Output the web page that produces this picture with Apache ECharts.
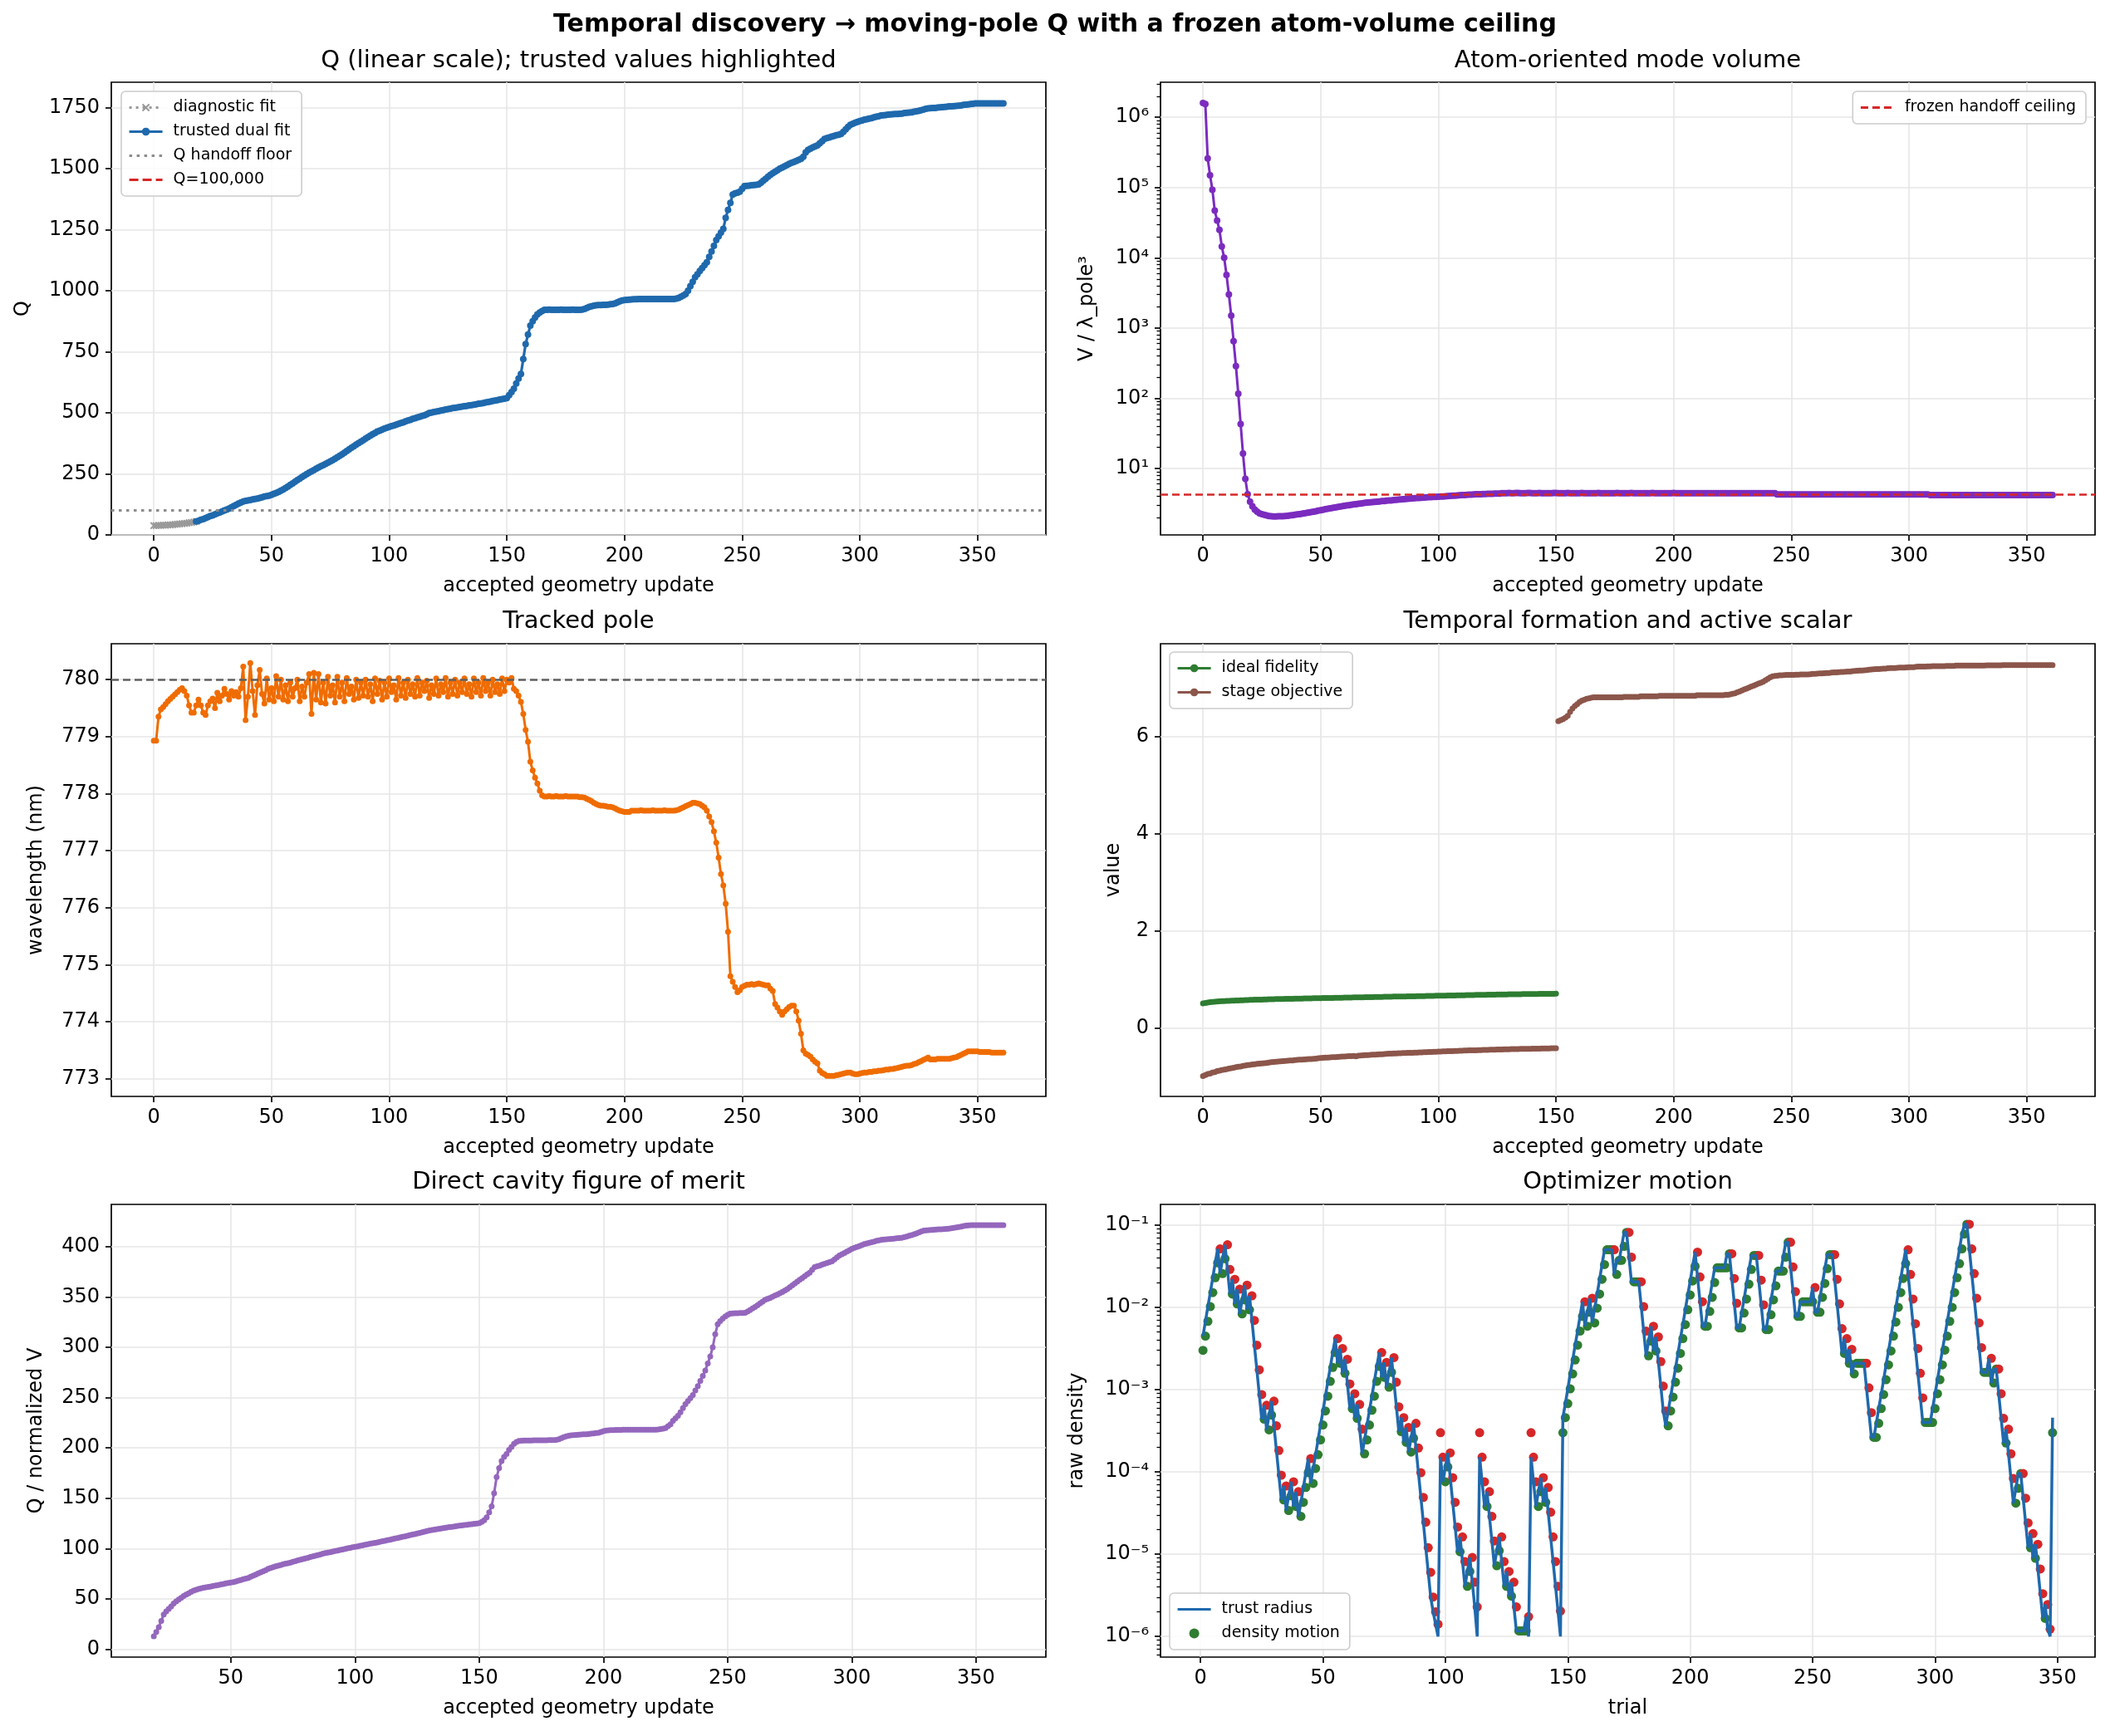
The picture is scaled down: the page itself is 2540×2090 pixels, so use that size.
<!DOCTYPE html>
<html>
<head>
<meta charset="utf-8">
<title>Temporal discovery - moving-pole Q</title>
<script src="https://cdn.jsdelivr.net/npm/echarts@6.0.0/dist/echarts.min.js"></script>
<style>
  html, body { margin: 0; padding: 0; background: #ffffff; }
  #chart { width: 2540px; height: 2090px; }
</style>
</head>
<body>
<div id="chart"></div>
<script>
"use strict";

// ---------------------------------------------------------------------------
// values
// ---------------------------------------------------------------------------

// Q, diagnostic fit (updates 0..18) and trusted dual fit (updates 18..361)
const Q_DIAG_START = 0;
const qDiagnostic = [38, 38, 39, 39, 40, 40, 41, 41, 42, 43, 44, 45, 46, 47, 48, 50, 51, 53, 55];
const Q_TRUSTED_START = 18;
const qTrusted = [
  55, 58, 62, 65, 69, 73, 77, 80, 84, 88, 92, 96,
  100, 104, 108, 113, 118, 123, 128, 133, 137, 139,
  141, 143, 145, 147, 149, 151, 154, 157, 159, 161,
  164, 168, 172, 176, 181, 186, 192, 198, 205, 211,
  218, 224, 230, 237, 243, 249, 255, 260, 265, 271,
  276, 281, 286, 291, 296, 301, 306, 312, 318, 324,
  330, 337, 343, 350, 357, 363, 370, 376, 382, 388,
  394, 400, 406, 412, 417, 423, 427, 431, 435, 439,
  442, 445, 448, 451, 455, 458, 461, 465, 468, 471,
  475, 478, 481, 484, 487, 490, 494, 499, 501, 503,
  505, 507, 509, 511, 513, 515, 517, 519, 520, 522,
  524, 525, 527, 528, 530, 531, 533, 535, 537, 538,
  540, 542, 544, 546, 548, 550, 552, 554, 556, 558,
  560, 572, 585, 598, 620, 640, 659, 720, 781, 820,
  857, 875, 890, 903, 910, 916, 921, 921, 922, 921,
  921, 921, 921, 922, 921, 921, 921, 921, 922, 921,
  921, 921, 922, 925, 929, 933, 936, 938, 940, 941,
  941, 942, 942, 943, 944, 945, 948, 952, 956, 960,
  961, 962, 963, 964, 965, 965, 966, 966, 966, 966,
  966, 966, 966, 966, 966, 966, 966, 966, 966, 966,
  966, 966, 967, 970, 975, 980, 986, 1000, 1018, 1036,
  1055, 1067, 1080, 1092, 1104, 1116, 1138, 1160, 1183, 1207,
  1222, 1238, 1253, 1298, 1330, 1359, 1393, 1398, 1401, 1405,
  1417, 1428, 1429, 1430, 1431, 1432, 1433, 1435, 1442, 1450,
  1458, 1466, 1474, 1481, 1487, 1493, 1499, 1504, 1509, 1514,
  1519, 1523, 1527, 1531, 1535, 1539, 1548, 1566, 1576, 1581,
  1586, 1590, 1595, 1603, 1612, 1621, 1624, 1627, 1630, 1633,
  1636, 1638, 1641, 1650, 1660, 1670, 1679, 1683, 1687, 1691,
  1694, 1697, 1700, 1702, 1704, 1706, 1709, 1712, 1714, 1717,
  1718, 1719, 1720, 1721, 1722, 1723, 1723, 1724, 1725, 1727,
  1728, 1729, 1730, 1732, 1734, 1736, 1738, 1741, 1744, 1746,
  1747, 1748, 1748, 1749, 1750, 1751, 1752, 1753, 1754, 1754,
  1755, 1756, 1757, 1758, 1760, 1761, 1762, 1764, 1765, 1766,
  1766, 1766, 1766, 1766, 1766, 1766, 1766, 1766, 1766, 1766, 1766, 1766
];
const Q_HANDOFF_FLOOR = 100;

// atom-oriented mode volume V / lambda^3, updates 0..361
const modeVolume = [
  1.6e6, 1.55e6, 2.6e5, 1.5e5, 9.3e4, 4.7e4, 3.4e4, 2.5e4, 1.45e4, 1.0e4,
  5700, 3000, 1500, 650, 287, 116, 43, 16.3, 7.1, 4.3,
  3.36, 2.9, 2.6, 2.42, 2.3, 2.24, 2.18, 2.14, 2.1, 2.08,
  2.07, 2.07, 2.08, 2.08, 2.09, 2.1, 2.12, 2.14, 2.16, 2.18,
  2.21, 2.24, 2.27, 2.3, 2.33, 2.36, 2.39, 2.42, 2.45, 2.5,
  2.54, 2.58, 2.62, 2.66, 2.7, 2.74, 2.78, 2.82, 2.86, 2.9,
  2.93, 2.97, 3.0, 3.04, 3.07, 3.1, 3.14, 3.17, 3.2, 3.24,
  3.27, 3.29, 3.32, 3.34, 3.37, 3.39, 3.42, 3.44, 3.47, 3.49,
  3.51, 3.54, 3.56, 3.59, 3.62, 3.64, 3.67, 3.7, 3.72, 3.75,
  3.77, 3.79, 3.81, 3.83, 3.85, 3.87, 3.89, 3.91, 3.93, 3.94,
  3.95, 3.97, 3.99, 4.01, 4.04, 4.06, 4.08, 4.1, 4.12, 4.15,
  4.17, 4.19, 4.21, 4.23, 4.24, 4.26, 4.28, 4.29, 4.3, 4.32,
  4.33, 4.34, 4.35, 4.36, 4.37, 4.38, 4.39,
  4.44, 4.45, 4.45, 4.46, 4.45, 4.45, 4.46, 4.46, 4.45, 4.45,
  4.45, 4.46, 4.46, 4.45, 4.45, 4.45, 4.46, 4.45, 4.45, 4.45,
  4.45, 4.45, 4.46, 4.46, 4.45, 4.45, 4.45, 4.45, 4.46, 4.45,
  4.45, 4.45, 4.45, 4.45, 4.46, 4.45, 4.45, 4.45, 4.45, 4.45,
  4.45, 4.46, 4.45, 4.45, 4.45, 4.45, 4.45, 4.45, 4.45, 4.46,
  4.45, 4.45, 4.45, 4.45, 4.45, 4.46, 4.45, 4.45, 4.45, 4.45,
  4.45, 4.45, 4.45, 4.45, 4.46, 4.45, 4.45, 4.45, 4.45, 4.45,
  4.45, 4.45, 4.45, 4.46, 4.45, 4.45, 4.45, 4.45, 4.45, 4.45,
  4.45, 4.45, 4.45, 4.45, 4.45, 4.45, 4.45, 4.45, 4.45, 4.45,
  4.45, 4.45, 4.45, 4.45, 4.45, 4.45, 4.45, 4.45, 4.45, 4.45,
  4.45, 4.45, 4.45, 4.45, 4.45, 4.45, 4.45, 4.45, 4.45, 4.44,
  4.44, 4.44, 4.44, 4.44, 4.44, 4.44, 4.44,
  4.25, 4.25, 4.25, 4.25, 4.25, 4.25, 4.25, 4.25, 4.25, 4.25,
  4.25, 4.25, 4.25, 4.25, 4.25, 4.25, 4.25, 4.25, 4.25, 4.25,
  4.25, 4.25, 4.25, 4.25, 4.25, 4.25, 4.25, 4.25, 4.25, 4.25,
  4.25, 4.25, 4.25, 4.25, 4.25, 4.25, 4.25, 4.25, 4.25, 4.25,
  4.25, 4.25, 4.25, 4.25, 4.25, 4.25, 4.25, 4.25, 4.25, 4.25,
  4.25, 4.25, 4.25, 4.25, 4.25, 4.25, 4.25, 4.25, 4.25, 4.25,
  4.25, 4.25, 4.25, 4.25, 4.25,
  4.18, 4.18, 4.18, 4.18, 4.18, 4.18, 4.18, 4.18, 4.18, 4.18,
  4.18, 4.18, 4.18, 4.18, 4.18, 4.18, 4.18, 4.18, 4.18, 4.18,
  4.18, 4.18, 4.18, 4.18, 4.18, 4.18, 4.18, 4.18, 4.18, 4.18,
  4.18, 4.18, 4.18, 4.18, 4.18, 4.18, 4.18, 4.18, 4.18, 4.18,
  4.18, 4.18, 4.18, 4.18, 4.18, 4.18, 4.18, 4.18, 4.18, 4.18,
  4.18, 4.18, 4.18
];
const FROZEN_CEILING = 4.3;

// tracked pole wavelength (nm), updates 0..361
const poleWavelength = [
  778.93, 778.93, 779.35, 779.48, 779.52, 779.57, 779.62, 779.66, 779.70, 779.74,
  779.78, 779.82, 779.85, 779.80, 779.72, 779.55, 779.42, 779.42, 779.55, 779.65,
  779.55, 779.42, 779.38, 779.55, 779.62, 779.67, 779.50, 779.77, 779.62, 779.72,
  779.84, 779.75, 779.65, 779.80, 779.72, 779.78, 779.70, 779.85, 780.23, 779.29,
  779.70, 780.29, 779.80, 779.38, 779.90, 780.17, 779.75, 779.58, 780.02, 779.65,
  779.85, 779.62, 780.06, 779.70, 780.00, 779.65, 779.90, 779.62, 779.95, 779.70,
  779.85, 780.00, 779.62, 779.88, 779.70, 779.95, 780.10, 779.40, 780.12, 779.65,
  780.10, 779.60, 779.95, 779.58, 780.05, 779.72, 779.90, 779.60, 780.05, 779.70,
  779.95, 779.62, 780.03, 779.75, 779.88, 779.65, 780.00, 779.68, 779.95, 779.72,
  780.00, 779.70, 779.92, 779.62, 780.02, 779.75, 779.98, 779.65, 779.95, 779.70,
  780.02, 779.78, 779.90, 779.65, 780.03, 779.72, 779.95, 779.68, 780.00, 779.75,
  779.92, 779.70, 780.03, 779.72, 779.95, 779.80, 779.98, 779.68, 779.90, 779.75,
  780.02, 779.72, 779.92, 779.78, 780.03, 779.70, 779.95, 779.75, 780.00, 779.72,
  779.95, 779.78, 780.02, 779.75, 779.92, 779.70, 780.02, 779.78, 779.95, 779.72,
  780.03, 779.80, 779.95, 779.72, 780.00, 779.78, 779.92, 779.75, 780.02, 779.80,
  780.00, 779.95, 780.03, 779.84, 779.80, 779.72, 779.61, 779.40, 779.12, 778.91,
  778.56, 778.41, 778.28, 778.18, 778.05, 777.97, 777.95, 777.95, 777.96, 777.95,
  777.95, 777.96, 777.95, 777.95, 777.95, 777.96, 777.95, 777.95, 777.95, 777.95,
  777.95, 777.94, 777.94, 777.93, 777.91, 777.89, 777.87, 777.84, 777.82, 777.80,
  777.79, 777.79, 777.78, 777.77, 777.77, 777.76, 777.74, 777.72, 777.70, 777.69,
  777.68, 777.68, 777.68, 777.70, 777.70, 777.70, 777.70, 777.71, 777.70, 777.70,
  777.70, 777.70, 777.71, 777.70, 777.70, 777.70, 777.70, 777.71, 777.70, 777.70,
  777.70, 777.70, 777.71, 777.72, 777.74, 777.76, 777.78, 777.80, 777.82, 777.84,
  777.84, 777.83, 777.82, 777.79, 777.76, 777.70, 777.60, 777.50, 777.34, 777.14,
  776.88, 776.59, 776.39, 776.07, 775.58, 774.80, 774.70, 774.61, 774.52, 774.55,
  774.61, 774.63, 774.65, 774.65, 774.66, 774.65, 774.66, 774.67, 774.66, 774.65,
  774.64, 774.64, 774.58, 774.54, 774.31, 774.25, 774.18, 774.12, 774.18, 774.22,
  774.26, 774.28, 774.28, 774.18, 774.02, 773.79, 773.50, 773.44, 773.42, 773.39,
  773.34, 773.30, 773.27, 773.14, 773.10, 773.08, 773.05, 773.05, 773.05, 773.05,
  773.06, 773.07, 773.08, 773.09, 773.10, 773.11, 773.11, 773.09, 773.08, 773.08,
  773.09, 773.10, 773.11, 773.11, 773.12, 773.12, 773.13, 773.13, 773.14, 773.14,
  773.15, 773.16, 773.16, 773.17, 773.17, 773.18, 773.19, 773.20, 773.21, 773.22,
  773.23, 773.23, 773.24, 773.26, 773.27, 773.29, 773.31, 773.33, 773.35, 773.37,
  773.34, 773.34, 773.34, 773.35, 773.35, 773.35, 773.35, 773.35, 773.35, 773.36,
  773.37, 773.38, 773.40, 773.42, 773.44, 773.46, 773.48, 773.48, 773.48, 773.48,
  773.48, 773.47, 773.47, 773.47, 773.47, 773.47, 773.46, 773.46, 773.46, 773.46,
  773.46, 773.46
];
const WAVELENGTH_TARGET = 780;

// temporal formation: ideal fidelity (updates 0..150)
const idealFidelity = [
  0.51, 0.52, 0.528, 0.535, 0.54, 0.545, 0.549, 0.553, 0.556, 0.559,
  0.562, 0.564, 0.566, 0.568, 0.57, 0.572, 0.574, 0.576, 0.578, 0.58,
  0.582, 0.584, 0.586, 0.587, 0.589, 0.59, 0.592, 0.593, 0.595, 0.596,
  0.597, 0.599, 0.6, 0.601, 0.602, 0.604, 0.605, 0.606, 0.607, 0.608,
  0.609, 0.61, 0.611, 0.612, 0.613, 0.614, 0.615, 0.616, 0.617, 0.618,
  0.619, 0.62, 0.621, 0.622, 0.623, 0.624, 0.625, 0.626, 0.627, 0.628,
  0.629, 0.63, 0.631, 0.632, 0.633, 0.634, 0.635, 0.636, 0.637, 0.638,
  0.639, 0.64, 0.641, 0.642, 0.643, 0.644, 0.645, 0.646, 0.647, 0.648,
  0.649, 0.65, 0.651, 0.652, 0.653, 0.653, 0.654, 0.655, 0.656, 0.657,
  0.658, 0.659, 0.66, 0.661, 0.662, 0.663, 0.664, 0.665, 0.666, 0.667,
  0.668, 0.669, 0.67, 0.671, 0.672, 0.673, 0.674, 0.675, 0.676, 0.677,
  0.678, 0.679, 0.68, 0.681, 0.682, 0.683, 0.684, 0.685, 0.686, 0.687,
  0.688, 0.689, 0.69, 0.691, 0.692, 0.693, 0.694, 0.695, 0.696, 0.696,
  0.697, 0.698, 0.699, 0.7, 0.7, 0.701, 0.702, 0.702, 0.703, 0.704,
  0.704, 0.705, 0.705, 0.706, 0.706, 0.707, 0.708, 0.708, 0.709, 0.709, 0.71
];

// stage objective: early stage (updates 0..150), active scalar (updates 151..361)
const stageObjectiveEarly = [
  -0.98, -0.96, -0.94, -0.93, -0.91, -0.9, -0.88, -0.87, -0.86, -0.85,
  -0.84, -0.83, -0.82, -0.81, -0.8, -0.79, -0.785, -0.775, -0.765, -0.757,
  -0.75, -0.745, -0.738, -0.732, -0.727, -0.722, -0.717, -0.712, -0.705, -0.698,
  -0.69, -0.687, -0.684, -0.68, -0.676, -0.672, -0.668, -0.664, -0.66, -0.655,
  -0.65, -0.646, -0.643, -0.64, -0.637, -0.633, -0.63, -0.626, -0.622, -0.616,
  -0.61, -0.607, -0.604, -0.601, -0.598, -0.595, -0.592, -0.589, -0.586, -0.583,
  -0.58, -0.577, -0.574, -0.571, -0.568, -0.575, -0.562, -0.559, -0.556, -0.553,
  -0.55, -0.547, -0.544, -0.541, -0.538, -0.535, -0.532, -0.529, -0.526, -0.523,
  -0.52, -0.518, -0.516, -0.514, -0.512, -0.51, -0.508, -0.506, -0.504, -0.502,
  -0.5, -0.498, -0.496, -0.494, -0.492, -0.49, -0.488, -0.486, -0.484, -0.482,
  -0.48, -0.478, -0.476, -0.474, -0.472, -0.47, -0.468, -0.466, -0.464, -0.462,
  -0.46, -0.458, -0.457, -0.455, -0.454, -0.452, -0.451, -0.449, -0.448, -0.446,
  -0.445, -0.443, -0.442, -0.44, -0.439, -0.437, -0.436, -0.434, -0.433, -0.431,
  -0.43, -0.429, -0.428, -0.427, -0.426, -0.425, -0.424, -0.423, -0.422, -0.421,
  -0.42, -0.419, -0.418, -0.417, -0.416, -0.415, -0.414, -0.413, -0.412, -0.411, -0.41
];
const STAGE_LATE_START = 151;
const stageObjectiveLate = [
  6.31, 6.33, 6.35, 6.38, 6.42, 6.50, 6.57, 6.62, 6.66, 6.70,
  6.73, 6.75, 6.77, 6.78, 6.79, 6.80, 6.80, 6.80, 6.80, 6.80,
  6.80, 6.80, 6.80, 6.80, 6.80, 6.80, 6.80, 6.80, 6.81, 6.81,
  6.81, 6.81, 6.81, 6.81, 6.81, 6.82, 6.82, 6.82, 6.82, 6.82,
  6.82, 6.82, 6.82, 6.83, 6.83, 6.83, 6.83, 6.83, 6.83, 6.83,
  6.83, 6.83, 6.83, 6.83, 6.83, 6.83, 6.83, 6.83, 6.83, 6.84,
  6.84, 6.84, 6.84, 6.84, 6.84, 6.84, 6.84, 6.84, 6.84, 6.84,
  6.84, 6.85, 6.85, 6.86, 6.87, 6.88, 6.90, 6.92, 6.94, 6.96,
  6.98, 7.00, 7.02, 7.04, 7.06, 7.08, 7.10, 7.12, 7.15, 7.18,
  7.21, 7.23, 7.24, 7.245, 7.25, 7.25, 7.255, 7.26, 7.26, 7.26,
  7.26, 7.265, 7.265, 7.27, 7.27, 7.27, 7.27, 7.275, 7.28, 7.28,
  7.285, 7.29, 7.29, 7.295, 7.30, 7.30, 7.305, 7.31, 7.31, 7.315,
  7.32, 7.32, 7.325, 7.33, 7.33, 7.335, 7.34, 7.345, 7.35, 7.35,
  7.355, 7.36, 7.365, 7.37, 7.375, 7.38, 7.38, 7.385, 7.39, 7.39,
  7.395, 7.40, 7.40, 7.40, 7.405, 7.41, 7.41, 7.41, 7.415, 7.42,
  7.42, 7.42, 7.425, 7.43, 7.43, 7.43, 7.43, 7.435, 7.435, 7.44,
  7.44, 7.44, 7.44, 7.44, 7.44, 7.445, 7.445, 7.445, 7.445, 7.45,
  7.45, 7.45, 7.45, 7.45, 7.45, 7.45, 7.45, 7.45, 7.45, 7.45,
  7.45, 7.45, 7.455, 7.455, 7.455, 7.455, 7.455, 7.455, 7.455, 7.46,
  7.46, 7.46, 7.46, 7.46, 7.46, 7.46, 7.46, 7.46, 7.46, 7.46,
  7.46, 7.46, 7.46, 7.46, 7.46, 7.46, 7.46, 7.46, 7.46, 7.46,
  7.46
];

// direct cavity figure of merit Q / normalized V, updates 19..361
const MERIT_START = 19;
const cavityMerit = [
  12.7, 17, 21.8, 28, 34.5, 37.5, 40, 42.5, 45.4, 47.5,
  49.3, 51, 52.7, 54.2, 55.5, 56.8, 58.1, 59, 59.8, 60.4,
  61, 61.4, 61.8, 62.3, 62.8, 63.3, 63.8, 64.3, 64.8, 65.4,
  65.8, 66.1, 66.7, 67.3, 68, 68.7, 69.4, 70.1, 70.8, 71.9,
  73, 74.1, 75.2, 76.3, 77.4, 78.4, 79.9, 80.7, 81.5, 82.2,
  82.9, 83.6, 84.3, 84.9, 85.4, 86.1, 86.8, 87.5, 88.2, 88.9,
  89.5, 90.1, 90.8, 91.5, 92.2, 92.8, 93.5, 94.1, 94.8, 95.5,
  96, 96.3, 96.9, 97.5, 98, 98.6, 99.1, 99.6, 100.2, 100.7,
  101.2, 101.7, 102.2, 102.7, 103.2, 103.7, 104.2, 104.7, 105.2, 105.7,
  106.1, 106.6, 107.2, 107.7, 108.2, 108.8, 109.3, 109.9, 110.4, 110.9,
  111.5, 112, 112.6, 113.2, 113.8, 114.3, 114.9, 115.5, 116.1, 116.7,
  117.3, 118, 118.4, 118.8, 119.2, 119.6, 120, 120.4, 120.8, 121.2,
  121.6, 122, 122.4, 122.7, 123, 123.3, 123.6, 123.9, 124.2, 124.5,
  124.9, 125.3, 126.5, 128, 131, 136, 142, 155, 171, 180,
  187, 191, 194, 198, 201, 204, 206, 207, 207.2, 207.3,
  207.3, 207.4, 207.4, 207.5, 207.5, 207.5, 207.6, 207.6, 207.6, 207.7,
  207.7, 207.8, 208, 208.6, 209.6, 210.7, 211.5, 212.2, 212.5, 212.8,
  213, 213.2, 213.4, 213.5, 213.6, 213.8, 214.1, 214.4, 214.8, 215,
  215.8, 216.6, 217.3, 217.5, 217.6, 217.7, 217.8, 217.9, 217.9, 218,
  218, 218, 218, 218, 218, 218, 218, 218, 218, 218,
  218, 218, 218, 218.2, 218.6, 219.2, 219.8, 221.5, 223.5, 227,
  229.5, 232, 235.5, 239.5, 243.4, 246.5, 249.5, 252.5, 257, 261.5,
  266.5, 271.5, 277, 284, 291, 300, 313, 323, 326, 328.5,
  330.5, 332.2, 333.5, 333.7, 333.8, 333.9, 334, 334.1, 334.3, 335.5,
  337, 338.6, 340, 341.8, 343.6, 345.3, 347, 348, 349, 350.2,
  351.3, 352.4, 353.7, 355, 356.4, 357.8, 359.7, 361.5, 363.3, 365.2,
  367, 368.8, 370.6, 372.4, 374.2, 377, 379.6, 380.4, 381.2, 382.1,
  383, 383.9, 384.7, 385.5, 387.4, 389.3, 391.2, 392.4, 393.8, 395.1,
  396.4, 397.8, 398.8, 399.7, 400.6, 401.5, 402.5, 403.1, 403.8, 404.5,
  405.1, 405.8, 406.4, 406.9, 407.1, 407.4, 407.6, 407.8, 408, 408.3,
  408.5, 408.7, 409.4, 410.1, 410.8, 411.5, 412.3, 413.2, 414.1, 415.1,
  416, 416.2, 416.4, 416.6, 416.8, 417, 417.2, 417.3, 417.5, 417.7,
  417.8, 418.2, 418.6, 419.1, 419.6, 420, 420.5, 420.9, 421.2, 421.4,
  421.4, 421.4, 421.4, 421.4, 421.4, 421.4, 421.4, 421.4, 421.4, 421.4,
  421.4, 421.4, 421.4
];

// optimizer motion, trials 1..348
const TRIAL_START = 1;
const trustRadius = [
  4.47e-3, 6.76e-3, 1.02e-2, 1.51e-2, 2.29e-2, 3.47e-2, 5.13e-2, 2.57e-2, 3.89e-2, 5.75e-2,
  2.88e-2, 1.45e-2, 2.19e-2, 1.10e-2, 1.66e-2, 8.32e-3, 1.23e-2, 1.86e-2, 9.33e-3, 1.38e-2,
  6.92e-3, 3.47e-3, 1.74e-3, 8.71e-4, 4.37e-4, 6.46e-4, 3.24e-4, 4.90e-4, 7.24e-4, 3.63e-4,
  1.82e-4, 9.12e-5, 4.57e-5, 6.76e-5, 3.39e-5, 5.13e-5, 7.59e-5, 3.80e-5, 5.75e-5, 2.88e-5,
  4.27e-5, 6.46e-5, 9.77e-5, 1.45e-4, 7.24e-5, 1.10e-4, 1.62e-4, 2.45e-4, 3.72e-4, 5.50e-4,
  8.32e-4, 1.26e-3, 1.86e-3, 2.82e-3, 4.17e-3, 2.09e-3, 3.16e-3, 1.58e-3, 2.34e-3, 1.17e-3,
  5.89e-4, 8.91e-4, 4.47e-4, 6.61e-4, 3.31e-4, 1.66e-4, 2.45e-4, 3.72e-4, 5.62e-4, 8.32e-4,
  1.26e-3, 1.91e-3, 2.82e-3, 1.41e-3, 2.14e-3, 1.07e-3, 1.62e-3, 2.45e-3, 1.23e-3, 6.17e-4,
  3.09e-4, 4.57e-4, 2.29e-4, 3.47e-4, 1.74e-4, 2.57e-4, 3.89e-4, 1.95e-4, 9.77e-5, 4.90e-5,
  2.45e-5, 1.20e-5, 6.03e-6, 3.02e-6, 2.00e-6, 1.41e-6, 1.00e-6, 1.51e-4, 7.59e-5, 1.15e-4,
  1.70e-4, 8.51e-5, 4.27e-5, 2.14e-5, 1.07e-5, 1.62e-5, 8.13e-6, 4.07e-6, 6.17e-6, 9.12e-6,
  4.57e-6, 2.29e-6, 1.00e-6, 1.51e-4, 7.59e-5, 3.80e-5, 5.75e-5, 2.88e-5, 1.45e-5, 7.24e-6,
  1.10e-5, 1.62e-5, 8.13e-6, 4.07e-6, 6.17e-6, 3.09e-6, 4.57e-6, 2.29e-6, 1.17e-6, 1.17e-6,
  1.17e-6, 1.17e-6, 1.74e-6, 1.00e-6, 1.51e-4, 7.59e-5, 3.80e-5, 5.75e-5, 8.51e-5, 4.27e-5,
  6.46e-5, 3.24e-5, 1.62e-5, 8.13e-6, 4.07e-6, 2.04e-6, 1.00e-6, 4.57e-4, 6.76e-4, 1.02e-3,
  1.55e-3, 2.29e-3, 3.47e-3, 5.13e-3, 7.76e-3, 1.17e-2, 5.89e-3, 8.71e-3, 1.29e-2, 6.46e-3,
  9.77e-3, 1.45e-2, 2.19e-2, 3.31e-2, 5.01e-2, 5.01e-2, 5.01e-2, 5.01e-2, 2.51e-2, 3.72e-2,
  3.72e-2, 5.50e-2, 8.13e-2, 8.13e-2, 4.07e-2, 2.04e-2, 2.04e-2, 2.04e-2, 2.04e-2, 1.02e-2,
  5.13e-3, 2.57e-3, 3.89e-3, 5.89e-3, 2.95e-3, 4.37e-3, 2.19e-3, 1.10e-3, 5.50e-4, 3.63e-4,
  5.50e-4, 8.13e-4, 1.23e-3, 1.82e-3, 2.75e-3, 4.17e-3, 6.17e-3, 9.33e-3, 1.41e-2, 2.09e-2,
  3.16e-2, 4.68e-2, 2.34e-2, 1.17e-2, 5.89e-3, 5.89e-3, 8.91e-3, 1.32e-2, 2.00e-2, 3.02e-2,
  3.02e-2, 3.02e-2, 3.02e-2, 3.02e-2, 4.47e-2, 4.47e-2, 2.24e-2, 1.12e-2, 5.62e-3, 5.62e-3,
  8.51e-3, 1.26e-2, 1.91e-2, 2.88e-2, 4.27e-2, 4.27e-2, 4.27e-2, 2.14e-2, 1.07e-2, 5.37e-3,
  5.37e-3, 8.13e-3, 1.23e-2, 1.82e-2, 2.75e-2, 2.75e-2, 2.75e-2, 4.07e-2, 6.17e-2, 6.17e-2,
  3.09e-2, 1.55e-2, 7.76e-3, 7.76e-3, 1.17e-2, 1.17e-2, 1.17e-2, 1.17e-2, 1.17e-2, 1.74e-2,
  8.71e-3, 8.71e-3, 1.32e-2, 1.95e-2, 2.95e-2, 4.37e-2, 4.37e-2, 4.37e-2, 2.19e-2, 1.10e-2,
  5.50e-3, 2.75e-3, 4.17e-3, 2.09e-3, 3.09e-3, 1.55e-3, 2.09e-3, 2.09e-3, 2.09e-3, 2.09e-3,
  2.09e-3, 1.05e-3, 5.25e-4, 2.63e-4, 2.63e-4, 3.89e-4, 5.89e-4, 8.71e-4, 1.32e-3, 2.00e-3,
  2.95e-3, 4.47e-3, 6.61e-3, 1.00e-2, 1.51e-2, 2.24e-2, 3.39e-2, 5.01e-2, 2.51e-2, 1.26e-2,
  6.31e-3, 3.16e-3, 1.58e-3, 7.94e-4, 3.98e-4, 3.98e-4, 3.98e-4, 3.98e-4, 5.89e-4, 8.91e-4,
  1.32e-3, 2.00e-3, 3.02e-3, 4.47e-3, 6.76e-3, 1.00e-2, 1.51e-2, 2.29e-2, 3.39e-2, 5.13e-2,
  7.76e-2, 1.02e-1, 1.02e-1, 5.13e-2, 2.57e-2, 1.29e-2, 6.46e-3, 3.24e-3, 1.62e-3, 1.62e-3,
  1.62e-3, 2.40e-3, 1.20e-3, 1.78e-3, 1.78e-3, 8.91e-4, 4.47e-4, 2.24e-4, 3.31e-4, 1.66e-4,
  8.32e-5, 4.17e-5, 6.31e-5, 9.55e-5, 9.55e-5, 4.79e-5, 2.40e-5, 1.20e-5, 1.78e-5, 8.91e-6,
  1.32e-5, 6.61e-6, 3.31e-6, 1.66e-6, 2.45e-6, 1.23e-6, 1.00e-6, 4.57e-4
];
const densityMotion = [
  3.0e-3, 4.47e-3, 6.76e-3, 1.02e-2, 1.51e-2, 2.29e-2, 3.47e-2, 5.13e-2, 2.57e-2, 3.89e-2,
  5.75e-2, 2.88e-2, 1.45e-2, 2.19e-2, 1.10e-2, 1.66e-2, 8.32e-3, 1.23e-2, 1.86e-2, 9.33e-3,
  1.38e-2, 6.92e-3, 3.47e-3, 1.74e-3, 8.71e-4, 4.37e-4, 6.46e-4, 3.24e-4, 4.90e-4, 7.24e-4,
  3.63e-4, 1.82e-4, 9.12e-5, 4.57e-5, 6.76e-5, 3.39e-5, 5.13e-5, 7.59e-5, 3.80e-5, 5.75e-5,
  2.88e-5, 4.27e-5, 6.46e-5, 9.77e-5, 1.45e-4, 7.24e-5, 1.10e-4, 1.62e-4, 2.45e-4, 3.72e-4,
  5.50e-4, 8.32e-4, 1.26e-3, 1.86e-3, 2.82e-3, 4.17e-3, 2.09e-3, 3.16e-3, 1.58e-3, 2.34e-3,
  1.17e-3, 5.89e-4, 8.91e-4, 4.47e-4, 6.61e-4, 3.31e-4, 1.66e-4, 2.45e-4, 3.72e-4, 5.62e-4,
  8.32e-4, 1.26e-3, 1.91e-3, 2.82e-3, 1.41e-3, 2.14e-3, 1.07e-3, 1.62e-3, 2.45e-3, 1.23e-3,
  6.17e-4, 3.09e-4, 4.57e-4, 2.29e-4, 3.47e-4, 1.74e-4, 2.57e-4, 3.89e-4, 1.95e-4, 9.77e-5,
  4.90e-5, 2.45e-5, 1.20e-5, 6.03e-6, 3.02e-6, 2.00e-6, 1.41e-6, 3.0e-4, 1.51e-4, 7.59e-5,
  1.15e-4, 1.70e-4, 8.51e-5, 4.27e-5, 2.14e-5, 1.07e-5, 1.62e-5, 8.13e-6, 4.07e-6, 6.17e-6,
  9.12e-6, 4.57e-6, 2.29e-6, 3.0e-4, 1.51e-4, 7.59e-5, 3.80e-5, 5.75e-5, 2.88e-5, 1.45e-5,
  7.24e-6, 1.10e-5, 1.62e-5, 8.13e-6, 4.07e-6, 6.17e-6, 3.09e-6, 4.57e-6, 2.29e-6, 1.17e-6,
  1.17e-6, 1.17e-6, 1.17e-6, 1.74e-6, 3.0e-4, 1.51e-4, 7.59e-5, 3.80e-5, 5.75e-5, 8.51e-5,
  4.27e-5, 6.46e-5, 3.24e-5, 1.62e-5, 8.13e-6, 4.07e-6, 2.04e-6, 3.0e-4, 4.57e-4, 6.76e-4,
  1.02e-3, 1.55e-3, 2.29e-3, 3.47e-3, 5.13e-3, 7.76e-3, 1.17e-2, 5.89e-3, 8.71e-3, 1.29e-2,
  6.46e-3, 9.77e-3, 1.45e-2, 2.19e-2, 3.31e-2, 5.01e-2, 5.01e-2, 5.01e-2, 5.01e-2, 2.51e-2,
  3.72e-2, 3.72e-2, 5.50e-2, 8.13e-2, 8.13e-2, 4.07e-2, 2.04e-2, 2.04e-2, 2.04e-2, 2.04e-2,
  1.02e-2, 5.13e-3, 2.57e-3, 3.89e-3, 5.89e-3, 2.95e-3, 4.37e-3, 2.19e-3, 1.10e-3, 5.50e-4,
  3.63e-4, 5.50e-4, 8.13e-4, 1.23e-3, 1.82e-3, 2.75e-3, 4.17e-3, 6.17e-3, 9.33e-3, 1.41e-2,
  2.09e-2, 3.16e-2, 4.68e-2, 2.34e-2, 1.17e-2, 5.89e-3, 5.89e-3, 8.91e-3, 1.32e-2, 2.00e-2,
  3.02e-2, 3.02e-2, 3.02e-2, 3.02e-2, 3.02e-2, 4.47e-2, 4.47e-2, 2.24e-2, 1.12e-2, 5.62e-3,
  5.62e-3, 8.51e-3, 1.26e-2, 1.91e-2, 2.88e-2, 4.27e-2, 4.27e-2, 4.27e-2, 2.14e-2, 1.07e-2,
  5.37e-3, 5.37e-3, 8.13e-3, 1.23e-2, 1.82e-2, 2.75e-2, 2.75e-2, 2.75e-2, 4.07e-2, 6.17e-2,
  6.17e-2, 3.09e-2, 1.55e-2, 7.76e-3, 7.76e-3, 1.17e-2, 1.17e-2, 1.17e-2, 1.17e-2, 1.17e-2,
  1.74e-2, 8.71e-3, 8.71e-3, 1.32e-2, 1.95e-2, 2.95e-2, 4.37e-2, 4.37e-2, 4.37e-2, 2.19e-2,
  1.10e-2, 5.50e-3, 2.75e-3, 4.17e-3, 2.09e-3, 3.09e-3, 1.55e-3, 2.09e-3, 2.09e-3, 2.09e-3,
  2.09e-3, 2.09e-3, 1.05e-3, 5.25e-4, 2.63e-4, 2.63e-4, 3.89e-4, 5.89e-4, 8.71e-4, 1.32e-3,
  2.00e-3, 2.95e-3, 4.47e-3, 6.61e-3, 1.00e-2, 1.51e-2, 2.24e-2, 3.39e-2, 5.01e-2, 2.51e-2,
  1.26e-2, 6.31e-3, 3.16e-3, 1.58e-3, 7.94e-4, 3.98e-4, 3.98e-4, 3.98e-4, 3.98e-4, 5.89e-4,
  8.91e-4, 1.32e-3, 2.00e-3, 3.02e-3, 4.47e-3, 6.76e-3, 1.00e-2, 1.51e-2, 2.29e-2, 3.39e-2,
  5.13e-2, 7.76e-2, 1.02e-1, 1.02e-1, 5.13e-2, 2.57e-2, 1.29e-2, 6.46e-3, 3.24e-3, 1.62e-3,
  1.62e-3, 1.62e-3, 2.40e-3, 1.20e-3, 1.78e-3, 1.78e-3, 8.91e-4, 4.47e-4, 2.24e-4, 3.31e-4,
  1.66e-4, 8.32e-5, 4.17e-5, 6.31e-5, 9.55e-5, 9.55e-5, 4.79e-5, 2.40e-5, 1.20e-5, 1.78e-5,
  8.91e-6, 1.32e-5, 6.61e-6, 3.31e-6, 1.66e-6, 2.45e-6, 1.23e-6, 3.0e-4
];
// G = accepted step (green), R = rejected step (red), one letter per trial
const stepOutcome =
  "GGGGGGGRGG" + "RRGRGRGGRG" + "RRRRRGRGGR" + "RRRGRGGRGR" + "GGGGRGGGGG" +
  "GGGGGRGRGR" + "RGRGRRGGGG" + "GGGRGRGGRR" + "RGRGRGGRRR" + "RRRRRRRRRG" +
  "GRRRRGRRGG" + "RRRRRRGRRR" + "GGRRGRGRRG" + "GGGRRRRGGR" + "GRRRRRRGGG" +
  "GGGGGGRGGR" + "GGGGGGGGRG" + "GGGGRRGGGR" + "RRGGRGRRRR" + "GGGGGGGGGG" +
  "GGRRRGGGGG" + "GGGGGGRRRG" + "GGGGGGGRRR" + "GGGGGGGGGG" + "RRRGGGGGGG" +
  "RGGGGGGGRR" + "RRGRGRGGGG" + "GRRRGGGGGG" + "GGGGGGGGRR" + "RRRRRGGGGG" +
  "GGGGGGGGGG" + "GGGRRRRRRG" + "GGRGGRRRGR" + "RRGGGRRRGR" + "GRRRGRRG";

// tick labels
const UPDATE_TICKS = [0, 50, 100, 150, 200, 250, 300, 350];
const MERIT_X_TICKS = [50, 100, 150, 200, 250, 300, 350];
const Q_TICKS = [0, 250, 500, 750, 1000, 1250, 1500, 1750];
const VOLUME_TICKS = [1e1, 1e2, 1e3, 1e4, 1e5, 1e6];
const WAVELENGTH_TICKS = [773, 774, 775, 776, 777, 778, 779, 780];
const VALUE_TICKS = [0, 2, 4, 6];
const MERIT_TICKS = [0, 50, 100, 150, 200, 250, 300, 350, 400];
const DENSITY_TICKS = [1e-6, 1e-5, 1e-4, 1e-3, 1e-2, 1e-1];

// ---------------------------------------------------------------------------
// styling
// ---------------------------------------------------------------------------
const FONT = "DejaVu Sans";
const BLUE = "#1f69ad";
const RED = "#d62728";
const GRAY = "#8c8c8c";
const PURPLE = "#7b2cbf";
const ORANGE = "#ef6c00";
const GREEN = "#2e7d32";
const BROWN = "#8c564b";
const LIGHT_PURPLE = "#9467bd";
const X_MARK = "path://M0,1.5L1.5,0L5,3.5L8.5,0L10,1.5L6.5,5L10,8.5L8.5,10L5,6.5L1.5,10L0,8.5L3.5,5Z";

const PLOT_W = 1125;
const PLOT_H = 545;
const CELLS = [
  { left: 134, top: 99 },
  { left: 1397, top: 99 },
  { left: 134, top: 775 },
  { left: 1397, top: 775 },
  { left: 134, top: 1450 },
  { left: 1397, top: 1450 }
];
const TITLE_ROWS = [75, 750, 1425];

const SUPERSCRIPT = {
  "-": "\u207B", "0": "\u2070", "1": "\u00B9", "2": "\u00B2", "3": "\u00B3",
  "4": "\u2074", "5": "\u2075", "6": "\u2076", "7": "\u2077", "8": "\u2078", "9": "\u2079"
};

/**
 * label for a decade on a log axis, e.g. 10⁻³
 */
function decadeLabel(value) {
  const exponent = Math.log10(value);
  const rounded = Math.round(exponent);
  if (Math.abs(exponent - rounded) > 1e-6) {
    return "";
  }
  return "10" + String(rounded).split("").map(c => SUPERSCRIPT[c]).join("");
}

/**
 * plain number, no thousands separator (matplotlib style)
 */
function plainLabel(value) {
  return String(value);
}

/**
 * exponents of the minor tick positions 2..9 x 10^n inside [lo, hi]
 */
function logMinorExponents(lo, hi) {
  const ticks = [];
  const first = Math.floor(Math.log10(lo));
  const last = Math.ceil(Math.log10(hi));
  for (let e = first; e <= last; e++) {
    for (let m = 2; m <= 9; m++) {
      const v = m * Math.pow(10, e);
      if (v > lo && v < hi) {
        ticks.push(Math.log10(v));
      }
    }
  }
  return ticks;
}

/**
 * pair an array of values with consecutive x positions
 */
function withIndex(values, start) {
  return values.map((v, i) => [start + i, v]);
}

/**
 * common look of a matplotlib style axis
 */
function makeAxis(options) {
  const axis = {
    type: options.type || "value",
    gridIndex: options.grid,
    min: options.min,
    max: options.max,
    name: options.name,
    nameLocation: "middle",
    nameGap: options.nameGap,
    nameTextStyle: { fontFamily: FONT, fontSize: 24, color: "#000" },
    axisLine: { show: false, onZero: false },
    axisTick: {
      show: true,
      length: 7,
      lineStyle: { color: "#000", width: 1.7 },
      customValues: options.ticks
    },
    axisLabel: {
      color: "#000",
      fontFamily: FONT,
      fontSize: 24,
      margin: 14,
      customValues: options.ticks,
      formatter: options.formatter || plainLabel
    },
    splitLine: { show: true, lineStyle: { color: "#e6e6e6", width: 1.6 } }
  };
  if (axis.type === "value") {
    axis.minInterval = options.step;
    axis.maxInterval = options.step;
  }
  return axis;
}

/**
 * unlabeled companion axis (linear in decades) that only carries the
 * minor ticks of a log axis
 */
function minorLogAxis(grid, lo, hi) {
  return {
    type: "value",
    gridIndex: grid,
    min: Math.log10(lo),
    max: Math.log10(hi),
    position: "left",
    offset: 0,
    axisLine: { show: false, onZero: false },
    axisTick: {
      show: true,
      length: 4.5,
      lineStyle: { color: "#000", width: 1.3 },
      customValues: logMinorExponents(lo, hi)
    },
    axisLabel: { show: false },
    splitLine: { show: false }
  };
}

/**
 * legend box like matplotlib's default frame
 */
function legendBox(position, names) {
  return Object.assign(
    {
      data: names,
      orient: "vertical",
      itemWidth: 40,
      itemHeight: 12,
      itemGap: 10,
      padding: [10, 12, 10, 8],
      backgroundColor: "rgba(255,255,255,0.85)",
      borderColor: "#cccccc",
      borderWidth: 1.6,
      borderRadius: 5,
      selectedMode: false,
      lineStyle: { width: 3.2 },
      textStyle: { fontFamily: FONT, fontSize: 19, color: "#000", padding: [0, 0, 0, 8] }
    },
    position
  );
}

/**
 * legend entry that shows only the line of the series (no marker)
 */
function lineOnly(name) {
  return { name, itemStyle: { opacity: 0 } };
}

function plotTitle(text, cell, row) {
  return {
    text,
    left: CELLS[cell].left + PLOT_W / 2,
    top: TITLE_ROWS[row] - 16,
    textAlign: "center",
    padding: 0,
    textStyle: { fontFamily: FONT, fontSize: 29, fontWeight: "normal", color: "#000" }
  };
}

function flatLine(value, color, width, dash) {
  return {
    silent: true,
    symbol: ["none", "none"],
    label: { show: false },
    emphasis: { disabled: true },
    lineStyle: { color, width, type: dash },
    data: [{ yAxis: value }]
  };
}

// ---------------------------------------------------------------------------
// build the figure
// ---------------------------------------------------------------------------
const accepted = [];
const rejected = [];
densityMotion.forEach((v, i) => {
  const point = [TRIAL_START + i, v];
  if (stepOutcome[i] === "G") {
    accepted.push(point);
  } else {
    rejected.push(point);
  }
});

const updateLabel = "accepted geometry update";
const VOLUME_RANGE = [1.13, 3.16e6];
const DENSITY_RANGE = [5.62e-7, 0.178];

const xAxes = [
  makeAxis({ grid: 0, min: -18.05, max: 379.05, step: 50, ticks: UPDATE_TICKS, name: updateLabel, nameGap: 50 }),
  makeAxis({ grid: 1, min: -18.05, max: 379.05, step: 50, ticks: UPDATE_TICKS, name: updateLabel, nameGap: 50 }),
  makeAxis({ grid: 2, min: -18.05, max: 379.05, step: 50, ticks: UPDATE_TICKS, name: updateLabel, nameGap: 50 }),
  makeAxis({ grid: 3, min: -18.05, max: 379.05, step: 50, ticks: UPDATE_TICKS, name: updateLabel, nameGap: 50 }),
  makeAxis({ grid: 4, min: 1.9, max: 378.1, step: 50, ticks: MERIT_X_TICKS, name: updateLabel, nameGap: 50 }),
  makeAxis({ grid: 5, min: -16.35, max: 365.35, step: 50, ticks: UPDATE_TICKS, name: "trial", nameGap: 50 })
];

const yAxes = [
  makeAxis({ grid: 0, min: 0, max: 1853, step: 250, ticks: Q_TICKS, name: "Q", nameGap: 94 }),
  makeAxis({
    grid: 1, type: "log", min: VOLUME_RANGE[0], max: VOLUME_RANGE[1], ticks: VOLUME_TICKS,
    name: "V / \u03BB_pole\u00B3", nameGap: 76, formatter: decadeLabel
  }),
  makeAxis({ grid: 2, min: 772.69, max: 780.63, step: 1, ticks: WAVELENGTH_TICKS, name: "wavelength (nm)", nameGap: 78 }),
  makeAxis({ grid: 3, min: -1.4, max: 7.9, step: 2, ticks: VALUE_TICKS, name: "value", nameGap: 44 }),
  makeAxis({ grid: 4, min: -7.9, max: 442, step: 50, ticks: MERIT_TICKS, name: "Q / normalized V", nameGap: 78 }),
  makeAxis({
    grid: 5, type: "log", min: DENSITY_RANGE[0], max: DENSITY_RANGE[1], ticks: DENSITY_TICKS,
    name: "raw density", nameGap: 88, formatter: decadeLabel
  }),
  minorLogAxis(1, VOLUME_RANGE[0], VOLUME_RANGE[1]),
  minorLogAxis(5, DENSITY_RANGE[0], DENSITY_RANGE[1])
];

const series = [
  // Q (linear scale)
  {
    name: "diagnostic fit",
    type: "line",
    xAxisIndex: 0,
    yAxisIndex: 0,
    data: withIndex(qDiagnostic, Q_DIAG_START),
    symbol: X_MARK,
    symbolSize: 9,
    itemStyle: { color: "#999999" },
    lineStyle: { color: "#999999", width: 2.5, type: [3, 5] },
    z: 3
  },
  {
    name: "trusted dual fit",
    type: "line",
    xAxisIndex: 0,
    yAxisIndex: 0,
    data: withIndex(qTrusted, Q_TRUSTED_START),
    symbol: "circle",
    symbolSize: 8,
    itemStyle: { color: BLUE },
    lineStyle: { color: BLUE, width: 3.2 },
    z: 4
  },
  {
    name: "Q handoff floor",
    type: "line",
    xAxisIndex: 0,
    yAxisIndex: 0,
    data: [],
    symbol: "none",
    itemStyle: { color: GRAY },
    lineStyle: { color: GRAY, width: 3.2, type: [3.5, 5.5] },
    markLine: flatLine(Q_HANDOFF_FLOOR, GRAY, 3.2, [3.5, 5.5]),
    z: 2
  },
  {
    name: "Q=100,000",
    type: "line",
    xAxisIndex: 0,
    yAxisIndex: 0,
    data: [],
    symbol: "none",
    itemStyle: { color: RED },
    lineStyle: { color: RED, width: 3.2, type: [11, 5] }
  },
  // atom-oriented mode volume
  {
    name: "mode volume",
    type: "line",
    xAxisIndex: 1,
    yAxisIndex: 1,
    data: withIndex(modeVolume, 0),
    symbol: "circle",
    symbolSize: 8,
    itemStyle: { color: PURPLE },
    lineStyle: { color: PURPLE, width: 3 },
    z: 3
  },
  {
    name: "frozen handoff ceiling",
    type: "line",
    xAxisIndex: 1,
    yAxisIndex: 1,
    data: [],
    symbol: "none",
    itemStyle: { color: RED },
    lineStyle: { color: RED, width: 2.6, type: [9, 5] },
    markLine: flatLine(FROZEN_CEILING, RED, 2.6, [9, 5]),
    z: 4
  },
  // tracked pole
  {
    name: "tracked pole",
    type: "line",
    xAxisIndex: 2,
    yAxisIndex: 2,
    data: withIndex(poleWavelength, 0),
    symbol: "circle",
    symbolSize: 7,
    itemStyle: { color: ORANGE },
    lineStyle: { color: ORANGE, width: 3 },
    markLine: flatLine(WAVELENGTH_TARGET, "#606060", 2.6, [9, 5]),
    z: 3
  },
  // temporal formation and active scalar
  {
    name: "ideal fidelity",
    type: "line",
    xAxisIndex: 3,
    yAxisIndex: 3,
    data: withIndex(idealFidelity, 0),
    symbol: "circle",
    symbolSize: 7,
    itemStyle: { color: GREEN },
    lineStyle: { color: GREEN, width: 3 }
  },
  {
    name: "stage objective",
    type: "line",
    xAxisIndex: 3,
    yAxisIndex: 3,
    data: withIndex(stageObjectiveEarly, 0),
    symbol: "circle",
    symbolSize: 7,
    itemStyle: { color: BROWN },
    lineStyle: { color: BROWN, width: 3 }
  },
  {
    name: "stage objective",
    type: "line",
    xAxisIndex: 3,
    yAxisIndex: 3,
    data: withIndex(stageObjectiveLate, STAGE_LATE_START),
    symbol: "circle",
    symbolSize: 7,
    itemStyle: { color: BROWN },
    lineStyle: { color: BROWN, width: 3 }
  },
  // direct cavity figure of merit
  {
    name: "figure of merit",
    type: "line",
    xAxisIndex: 4,
    yAxisIndex: 4,
    data: withIndex(cavityMerit, MERIT_START),
    symbol: "circle",
    symbolSize: 7,
    itemStyle: { color: LIGHT_PURPLE },
    lineStyle: { color: LIGHT_PURPLE, width: 3 }
  },
  // optimizer motion
  {
    name: "density motion",
    type: "scatter",
    xAxisIndex: 5,
    yAxisIndex: 5,
    data: accepted,
    symbolSize: 11,
    itemStyle: { color: GREEN, opacity: 1 },
    z: 2
  },
  {
    name: "rejected motion",
    type: "scatter",
    xAxisIndex: 5,
    yAxisIndex: 5,
    data: rejected,
    symbolSize: 11,
    itemStyle: { color: RED, opacity: 1 },
    z: 2
  },
  {
    name: "trust radius",
    type: "line",
    xAxisIndex: 5,
    yAxisIndex: 5,
    data: withIndex(trustRadius, TRIAL_START),
    symbol: "none",
    itemStyle: { color: BLUE },
    lineStyle: { color: BLUE, width: 3.5 },
    z: 3
  }
];

const option = {
  backgroundColor: "#ffffff",
  animation: false,
  title: [
    {
      text: "Temporal discovery \u2192 moving-pole Q with a frozen atom-volume ceiling",
      left: 1270,
      top: 15,
      textAlign: "center",
      padding: 0,
      textStyle: { fontFamily: FONT, fontSize: 30, fontWeight: "bold", color: "#000" }
    },
    plotTitle("Q (linear scale); trusted values highlighted", 0, 0),
    plotTitle("Atom-oriented mode volume", 1, 0),
    plotTitle("Tracked pole", 2, 1),
    plotTitle("Temporal formation and active scalar", 3, 1),
    plotTitle("Direct cavity figure of merit", 4, 2),
    plotTitle("Optimizer motion", 5, 2)
  ],
  grid: CELLS.map(c => ({
    left: c.left,
    top: c.top,
    width: PLOT_W,
    height: PLOT_H,
    show: true,
    borderColor: "#000",
    borderWidth: 1.7,
    backgroundColor: "transparent",
    containLabel: false
  })),
  legend: [
    legendBox({ left: 146, top: 110 }, [
      "diagnostic fit", "trusted dual fit", lineOnly("Q handoff floor"), lineOnly("Q=100,000")
    ]),
    legendBox({ right: 29, top: 110 }, [lineOnly("frozen handoff ceiling")]),
    legendBox({ left: 1408, top: 785 }, ["ideal fidelity", "stage objective"]),
    legendBox({ left: 1408, top: 1918 }, [lineOnly("trust radius"), "density motion"])
  ],
  xAxis: xAxes,
  yAxis: yAxes,
  series
};

const chart = echarts.init(document.getElementById("chart"), null, { renderer: "canvas" });
chart.setOption(option);
window.onresize = () => {
  chart.resize();
};
</script>
</body>
</html>
